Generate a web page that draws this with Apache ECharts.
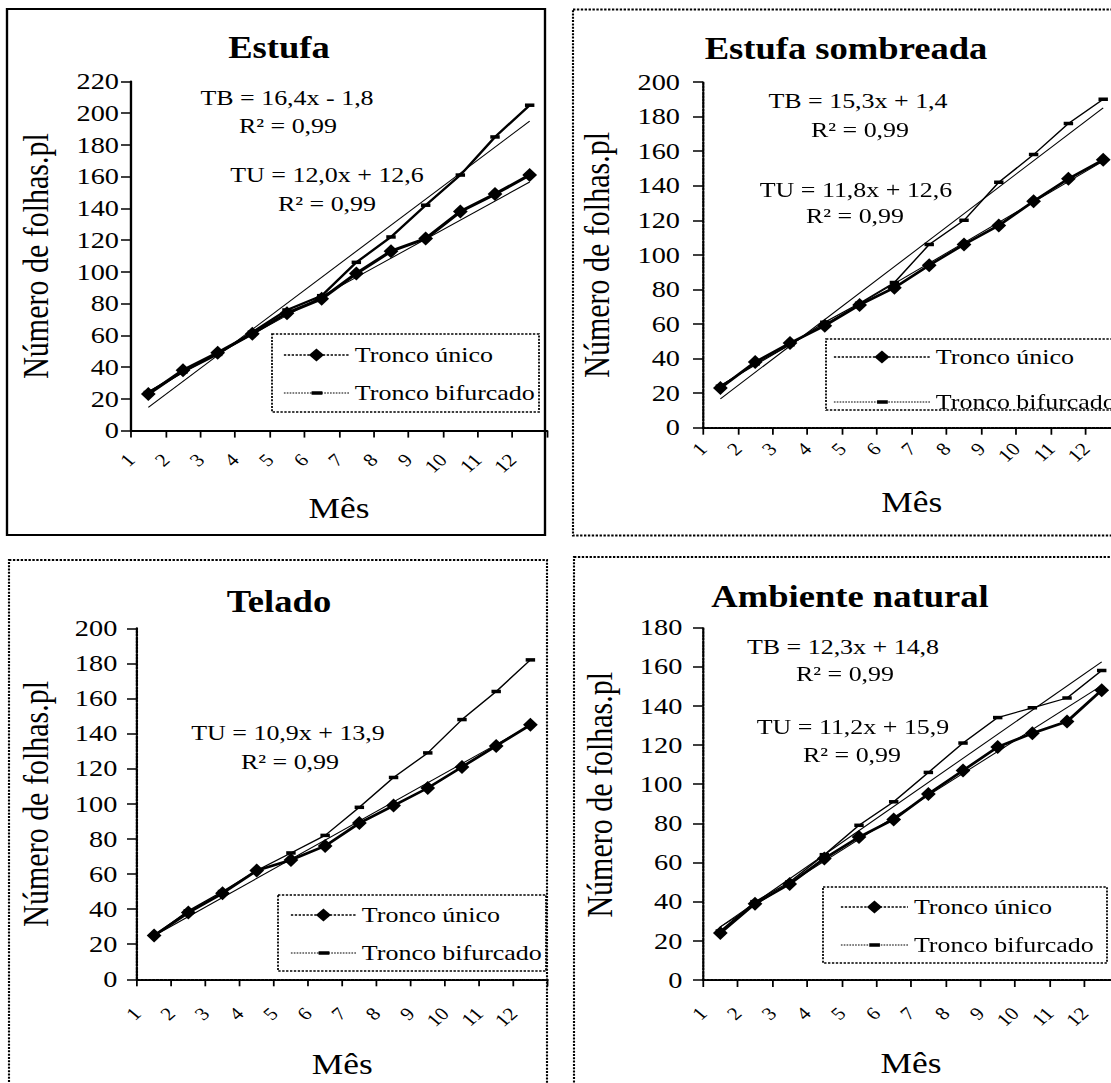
<!DOCTYPE html>
<html>
<head>
<meta charset="utf-8">
<script src="https://cdn.jsdelivr.net/npm/echarts@6/dist/echarts.min.js"></script>
<style>
html, body { margin: 0; padding: 0; background: #fff; width: 1111px; height: 1083px; overflow: hidden; }
#chart { position: absolute; left: 0; top: 0; height: 1083px; transform-origin: 0 0; }
</style>
</head>
<body>
<div id="chart"></div>
<script>
// ---------------- DATA ----------------
const monthLabels = ['1', '2', '3', '4', '5', '6', '7', '8', '9', '10', '11', '12'];
const seriesNames = ['Tronco único', 'Tronco bifurcado'];
const panelTitles = ['Estufa', 'Estufa sombreada', 'Telado', 'Ambiente natural'];
const yAxisTitle = 'Número de folhas.pl';
const xAxisTitle = 'Mês';
const yMaxes = [220, 200, 200, 180];
const yStep = 20;

const estufaTU = [23, 38, 49, 61, 74, 83, 99, 113, 121, 138, 149, 161];
const estufaTB = [24, 37, 48, 62, 76, 85, 106, 122, 142, 161, 185, 205];
const estufaTrendTU = [24.6, 156.6];
const estufaTrendTB = [14.6, 195.0];
const estufaEq = ['TB = 16,4x - 1,8', 'R² = 0,99', 'TU = 12,0x + 12,6', 'R² = 0,99'];

const sombreadaTU = [23, 38, 49, 59, 71, 81, 94, 106, 117, 131, 144, 155];
const sombreadaTB = [24, 37, 48, 61, 72, 84, 106, 120, 142, 158, 176, 190];
const sombreadaTrendTU = [24.4, 154.2];
const sombreadaTrendTB = [16.7, 185.0];
const sombreadaEq = ['TB = 15,3x + 1,4', 'R² = 0,99', 'TU = 11,8x + 12,6', 'R² = 0,99'];

const teladoTU = [25, 38, 49, 62, 68, 76, 89, 99, 109, 121, 133, 145];
const teladoTB = [25, 39, 50, 62, 72, 82, 98, 115, 129, 148, 164, 182];
const teladoTrendTU = [24.8, 144.7];
const teladoTrendTB = null;
const teladoEq = ['TU = 10,9x + 13,9', 'R² = 0,99'];

const naturalTU = [24, 39, 49, 62, 73, 82, 95, 107, 119, 126, 132, 148];
const naturalTB = [25, 40, 50, 64, 79, 91, 106, 121, 134, 139, 144, 158];
const naturalTrendTU = [27.1, 150.3];
const naturalTrendTB = [27.1, 162.4];
const naturalEq = ['TB = 12,3x + 14,8', 'R² = 0,99', 'TU = 11,2x + 15,9', 'R² = 0,99'];

// ---------------- LAYOUT / STYLE ----------------
const SX = 1.18;               // horizontal stretch of the original picture
const W = 1111 / SX;           // drawing width before stretch
const FONT = '"Liberation Serif", "Times New Roman", serif';

const panels = [
  { title: panelTitles[0], tu: estufaTU, tb: estufaTB, trendTU: estufaTrendTU, trendTB: estufaTrendTB, eq: estufaEq, yMax: yMaxes[0] },
  { title: panelTitles[1], tu: sombreadaTU, tb: sombreadaTB, trendTU: sombreadaTrendTU, trendTB: sombreadaTrendTB, eq: sombreadaEq, yMax: yMaxes[1] },
  { title: panelTitles[2], tu: teladoTU, tb: teladoTB, trendTU: teladoTrendTU, trendTB: teladoTrendTB, eq: teladoEq, yMax: yMaxes[2] },
  { title: panelTitles[3], tu: naturalTU, tb: naturalTB, trendTU: naturalTrendTU, trendTB: naturalTrendTB, eq: naturalEq, yMax: yMaxes[3] }
];

// positions in final (stretched) pixels
const layout = [
  { grid: { l: 131, t: 81.4, r: 547, b: 430.6 },
    frame: { l: 7, t: 9, r: 545, b: 535, solid: true },
    title: [279, 48],
    eqPos: [[287, 98], [288, 126], [327, 175], [327, 204]],
    legendBox: { l: 272, t: 334, r: 539, b: 412 },
    legend: { x: 283, textX: 354, row1: 355, gap: 16 },
    yLabelMargin: 12, xLabelMargin: 26, yNameGap: 77, xNameGap: 62, yNamePad: 0,
    tuW: 3, tbW: 2.2 },
  { grid: { l: 703, t: 82, r: 703 + 12 * 34.8, b: 427.7 },
    frame: { l: 573, t: 9.5, r: 1200, b: 535.5 },
    title: [846, 49],
    eqPos: [[858, 101], [860, 130], [856, 190], [855, 216]],
    legendBox: { l: 826, t: 339, r: 1200, b: 410 },
    legend: { x: 833, textX: 935, row1: 357, gap: 23 },
    yLabelMargin: 23, xLabelMargin: 18, yNameGap: 88, xNameGap: 59, yNamePad: 0,
    tuW: 2.6, tbW: 1.3 },
  { grid: { l: 137, t: 628.3, r: 547.5, b: 979.3 },
    frame: { l: 9, t: 560, r: 547, b: 1200 },
    title: [279, 601.5],
    eqPos: [[288, 733], [290, 762]],
    legendBox: { l: 278, t: 895, r: 546, b: 971 },
    legend: { x: 290, textX: 361, row1: 915, gap: 16 },
    yLabelMargin: 19.7, xLabelMargin: 31, yNameGap: 83.4, xNameGap: 70, yNamePad: 0,
    tuW: 2.6, tbW: 1.3 },
  { grid: { l: 703, t: 627.5, r: 703 + 12 * 34.67, b: 980 },
    frame: { l: 574, t: 557, r: 1200, b: 1200 },
    title: [850, 597],
    eqPos: [[843, 647], [845, 674], [853, 727], [852, 755]],
    legendBox: { l: 823, t: 887, r: 1107, b: 963 },
    legend: { x: 840, textX: 913, row1: 907, gap: 16 },
    yLabelMargin: 20.7, xLabelMargin: 30, yNameGap: 85.6, xNameGap: 68, yNamePad: 18,
    tuW: 2.6, tbW: 1.3 }
];

function dashIcon(w) {
  let p = '';
  for (let x = 0; x < w - 1; x += 2.4) p += 'M' + x.toFixed(2) + ' 9.4h1.4v1.2h-1.4z';
  const c = w / 2;
  p += 'M' + (c - 4.5).toFixed(2) + ' 8.3h9v3.4h-9z';
  return 'path://' + p;
}

const dom = document.getElementById('chart');
dom.style.width = W + 'px';
dom.style.transform = 'scaleX(' + SX + ')';
const chart = echarts.init(dom, null, { renderer: 'svg', width: W, height: 1083 });

const option = {
  animation: false,
  backgroundColor: '#fff',
  textStyle: { fontFamily: FONT, color: '#000' },
  title: [], grid: [], xAxis: [], yAxis: [], series: [], legend: [],
  graphic: { elements: [] }
};

panels.forEach((p, i) => {
  const L = layout[i];
  const solid = !!L.frame.solid;
  const axisLineStyle = { color: '#000', width: 2, type: solid ? 'solid' : [2, 1.3] };

  option.title.push({
    text: p.title, left: L.title[0] / SX, top: L.title[1] - 16, textAlign: 'center', padding: 0,
    textStyle: { fontSize: 31, fontWeight: 'bold', color: '#000', fontFamily: FONT }
  });

  option.grid.push({
    left: L.grid.l / SX, top: L.grid.t, width: (L.grid.r - L.grid.l) / SX, height: L.grid.b - L.grid.t,
    containLabel: false, outerBoundsMode: 'none', show: false
  });

  // visible month axis: ticks at month boundaries, labels at left boundary of each month
  option.xAxis.push({
    type: 'value', gridIndex: i, min: 0, max: monthLabels.length, interval: 1, position: 'bottom',
    axisLine: { show: true, onZero: false, lineStyle: axisLineStyle },
    axisTick: { show: true, length: 7, lineStyle: { color: '#000', width: 1.5 } },
    splitLine: { show: false },
    axisLabel: {
      show: true, rotate: 45, margin: L.xLabelMargin, fontSize: 18, color: '#000', fontFamily: FONT,
      formatter: v => (monthLabels[v] !== undefined ? monthLabels[v] : '')
    },
    name: xAxisTitle, nameLocation: 'middle', nameGap: L.xNameGap,
    nameTextStyle: { fontSize: 30, color: '#000', fontFamily: FONT }
  });
  // hidden category axis carrying the data (points in the middle of each month)
  option.xAxis.push({ type: 'category', gridIndex: i, data: monthLabels, boundaryGap: true, show: false });

  option.yAxis.push({
    type: 'value', gridIndex: i, min: 0, max: p.yMax, interval: yStep,
    axisLine: { show: true, onZero: false, lineStyle: axisLineStyle },
    axisTick: { show: true, length: 10 / SX, lineStyle: { color: '#000', width: 1.5 } },
    splitLine: { show: false },
    axisLabel: { margin: L.yLabelMargin / SX, fontSize: 24, color: '#000', fontFamily: FONT },
    name: yAxisTitle, nameLocation: 'middle', nameGap: L.yNameGap / SX,
    nameTextStyle: { fontSize: 30, color: '#000', fontFamily: FONT, padding: [0, 0, 0, L.yNamePad] }
  });

  const xi = 2 * i + 1;
  const last = monthLabels.length - 1;
  if (p.trendTB) {
    option.series.push({
      name: 'Linear (TB) ' + p.title, type: 'line', xAxisIndex: xi, yAxisIndex: i,
      data: [[0, p.trendTB[0]], [last, p.trendTB[1]]], symbol: 'none',
      lineStyle: { color: '#000', width: 1 }, z: 2, silent: true
    });
  }
  if (p.trendTU) {
    option.series.push({
      name: 'Linear (TU) ' + p.title, type: 'line', xAxisIndex: xi, yAxisIndex: i,
      data: [[0, p.trendTU[0]], [last, p.trendTU[1]]], symbol: 'none',
      lineStyle: { color: '#000', width: 1 }, z: 2, silent: true
    });
  }
  option.series.push({
    name: seriesNames[1], type: 'line', xAxisIndex: xi, yAxisIndex: i, data: p.tb,
    symbol: 'rect', symbolSize: [8, 3.5], lineStyle: { color: '#000', width: L.tbW },
    itemStyle: { color: '#000' }, z: 3, silent: true
  });
  option.series.push({
    name: seriesNames[0], type: 'line', xAxisIndex: xi, yAxisIndex: i, data: p.tu,
    symbol: 'diamond', symbolSize: [12.5, 14], lineStyle: { color: '#000', width: L.tuW },
    itemStyle: { color: '#000' }, z: 4, silent: true
  });

  const iw = (L.legend.textX - L.legend.x) / SX - 5;
  option.legend.push({
    show: true, orient: 'vertical', left: L.legend.x / SX, top: L.legend.row1 - 11, padding: 0,
    itemGap: L.legend.gap, itemWidth: iw, itemHeight: 16, selectedMode: false,
    textStyle: { fontSize: 22, color: '#000', fontFamily: FONT },
    lineStyle: { type: [2, 1.3], width: 1.5, color: '#000' },
    itemStyle: { color: '#000' },
    data: [{ name: seriesNames[0] }, { name: seriesNames[1], icon: dashIcon(iw) }]
  });

  const f = L.frame;
  option.graphic.elements.push({
    type: 'rect', silent: true, z: 0,
    shape: { x: f.l / SX, y: f.t, width: (f.r - f.l) / SX, height: f.b - f.t },
    style: { fill: 'none', stroke: '#000', lineWidth: solid ? 2 : 1.8, lineDash: solid ? null : [2, 1.3] }
  });
  const lb = L.legendBox;
  option.graphic.elements.push({
    type: 'rect', silent: true, z: 0,
    shape: { x: lb.l / SX, y: lb.t, width: (lb.r - lb.l) / SX, height: lb.b - lb.t },
    style: { fill: 'none', stroke: '#000', lineWidth: 1.5, lineDash: [2, 1.3] }
  });
  p.eq.forEach((t, k) => {
    option.graphic.elements.push({
      type: 'text', silent: true, z: 10,
      x: L.eqPos[k][0] / SX, y: L.eqPos[k][1],
      style: { text: t, font: '22px ' + FONT, fill: '#000', align: 'center', verticalAlign: 'middle' }
    });
  });
});

chart.setOption(option);
</script>
</body>
</html>
